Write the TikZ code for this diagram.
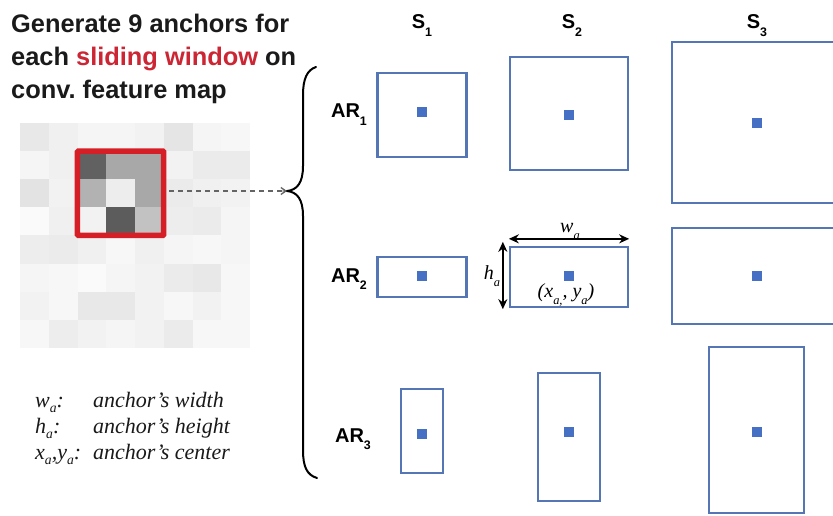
\documentclass[tikz,border=0pt]{standalone}
\usepackage{fontspec}
\setmainfont{Liberation Sans}
\newfontfamily\legendfont{Liberation Serif}
\usetikzlibrary{arrows.meta}
\frenchspacing

\definecolor{boxblue}{RGB}{84,118,180}
\definecolor{dotblue}{RGB}{70,112,196}
\definecolor{frame}{RGB}{214,30,38}
\definecolor{slidered}{RGB}{204,38,52}
\definecolor{titleink}{RGB}{26,26,26}
\definecolor{dashgray}{RGB}{100,100,100}

% low-hanging subscripts
\newcommand{\dn}[1]{\raisebox{-0.38em}{\scalebox{0.62}{#1}}}
\newcommand{\ldn}[1]{\raisebox{-0.26em}{\scalebox{0.62}{#1}}}

\tikzset{
  anchorbox/.style={draw=boxblue, line width=2.3pt, fill=white, inner sep=0pt},
  centerdot/.style={fill=dotblue, minimum size=9.5pt, inner sep=0pt},
  titleline/.style={anchor=base west, inner sep=0pt, text=titleink,
    font=\fontsize{25.4}{33}\selectfont\bfseries},
  colhead/.style={anchor=base, inner sep=0pt, font=\fontsize{20}{22}\selectfont\bfseries},
  rowhead/.style={anchor=base, inner sep=0pt, font=\fontsize{20}{22}\selectfont\bfseries},
  legendsym/.style={anchor=base west, inner sep=0pt, text=titleink,
    font=\fontsize{22}{24}\selectfont\legendfont\itshape},
  dimarrow/.style={line width=2pt, {Stealth[length=10pt,width=9pt]}-{Stealth[length=10pt,width=9pt]}},
  dimlabel/.style={inner sep=0pt, font=\fontsize{20}{22}\selectfont\legendfont\itshape},
}

\begin{document}
\begin{tikzpicture}[x=1pt, y=-1pt]
\clip (0,0) rectangle (833,516);
\fill[white] (0,0) rectangle (833,516);

% --- title ---
\node[titleline] (t1) at (11,33) {Generate 9 anchors for};
\node[titleline] (t2) at (11,66) {each \textcolor{slidered}{sliding window} on};
\node[titleline] (t3) at (11,99) {conv. feature map};

% --- faint convolutional feature map, 8x8 cells ---
\foreach \shade [count=\i from 0] in {
   9,6,4,4,5,10,4,3,
   4,6,0,0,0,5,8,8,
  11,5,0,0,0,8,6,5,
   2,6,0,0,0,7,8,4,
   7,8,6,3,6,4,3,4,
   4,3,2,4,5,8,9,3,
   5,3,9,9,5,3,5,3,
   3,7,5,4,5,8,3,3}{
  \pgfmathtruncatemacro\c{mod(\i,8)}
  \pgfmathtruncatemacro\r{div(\i,8)}
  \fill[black!\shade] (20+\c*28.75, 123+\r*28.1) rectangle ++(28.75,28.1);
}
% --- the 3x3 sliding window ---
\foreach \shade [count=\i from 0] in {62,34,34, 30,7,34, 5,64,24}{
  \pgfmathtruncatemacro\c{mod(\i,3)}
  \pgfmathtruncatemacro\r{div(\i,3)}
  \fill[black!\shade] (77.5+\c*28.75, 151.1+\r*28.1) rectangle ++(28.75,28.1);
}
\node[draw=frame, line width=5.5pt, rounded corners=1pt, inner sep=0pt,
      minimum width=86.25pt, minimum height=84.3pt] (win) at (120.6,193.25) {};

% --- curly brace gathering the nine anchors ---
\coordinate (tip) at (287,191);
\draw[line width=2pt, line cap=round]
  (316,67) .. controls (307,70) and (303,79) .. (303,95) -- (303,166)
  .. controls (303,183) and (297,190) .. (tip)
  .. controls (297,192) and (303,199) .. (303,216) -- (303,450)
  .. controls (303,467) and (307,475) .. (317,478);
\draw[dashgray, line width=1.3pt, dash pattern=on 5pt off 4pt, shorten <=3pt,
      -{Straight Barb[length=5pt,width=7pt]}] (win.east |- tip) -- (tip);

% --- column and row headings ---
\node[colhead] (s1) at (422,29) {S\dn{1}};
\node[colhead] (s2) at (572,29) {S\dn{2}};
\node[colhead] (s3) at (757,29) {S\dn{3}};
\node[rowhead] (ar1) at (349,118) {AR\dn{1}};
\node[rowhead] (ar2) at (349,282) {AR\dn{2}};
\node[rowhead] (ar3) at (353,442) {AR\dn{3}};

% --- anchors: aspect ratio AR1 ---
\node[anchorbox, minimum width=89pt, minimum height=84pt]  (a11) at (422,115) {};
\node[anchorbox, minimum width=118pt, minimum height=113pt] (a12) at (569,113.5) {};
\node[anchorbox, minimum width=170pt, minimum height=161pt] (a13) at (757,122.5) {};
% --- aspect ratio AR2 ---
\node[anchorbox, minimum width=89pt, minimum height=40pt]  (a21) at (422,277) {};
\node[anchorbox, minimum width=118pt, minimum height=60pt] (a22) at (569,277) {};
\node[anchorbox, minimum width=170pt, minimum height=96pt] (a23) at (757,276) {};
% --- aspect ratio AR3 ---
\node[anchorbox, minimum width=42pt, minimum height=84pt]  (a31) at (422,431) {};
\node[anchorbox, minimum width=62pt, minimum height=128pt] (a32) at (569,437) {};
\node[anchorbox, minimum width=95pt, minimum height=166pt] (a33) at (756.5,430) {};

% --- anchor centres ---
\node[centerdot] (d11) at (422,112) {};
\node[centerdot] (d12) at (569,115) {};
\node[centerdot] (d13) at (757,123) {};
\node[centerdot] (d21) at (422,276) {};
\node[centerdot] (d22) at (569,276) {};
\node[centerdot] (d23) at (757,276) {};
\node[centerdot] (d31) at (422,434) {};
\node[centerdot] (d32) at (569,432) {};
\node[centerdot] (d33) at (757,432) {};

% --- width / height annotation on the middle anchor ---
\coordinate (wl) at ([yshift=7pt]a22.north west);
\coordinate (wr) at ([yshift=7pt]a22.north east);
\coordinate (ht) at ([xshift=-6pt,yshift=4pt]a22.north west);
\coordinate (hb) at ([xshift=-6pt,yshift=-1pt]a22.south west);
\draw[dimarrow] (wl) -- (wr);
\draw[dimarrow] (ht) -- (hb);
\node[dimlabel, anchor=base] (wlab) at (570,232) {w\dn{a}};
\node[dimlabel, anchor=base] (hlab) at (492,279) {h\dn{a}};
\node[dimlabel, anchor=base] (clab) at (566,297) {(x\dn{a,}, y\dn{a})};

% --- legend ---
\node[legendsym] (lw)  at (35,407) {w\ldn{a}:};
\node[legendsym] (lwt) at (93,407) {anchor’s width};
\node[legendsym] (lh)  at (35,433) {h\ldn{a}:};
\node[legendsym] (lht) at (93,433) {anchor’s height};
\node[legendsym] (lc)  at (35,459) {x\ldn{a},y\ldn{a}:};
\node[legendsym] (lct) at (93,459) {anchor’s center};
\end{tikzpicture}
\end{document}
